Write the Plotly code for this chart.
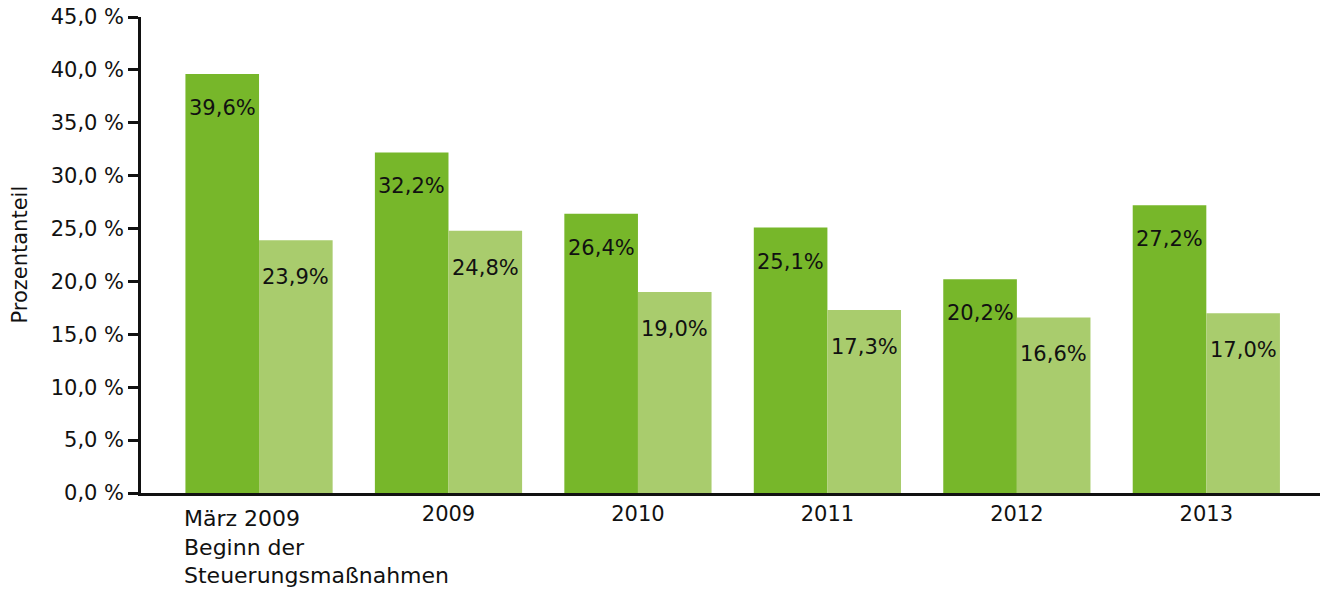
import plotly.graph_objects as go

categories = ["März 2009<br>Beginn der<br>Steuerungsmaßnahmen", "2009", "2010", "2011", "2012", "2013"]
series_a = [39.6, 32.2, 26.4, 25.1, 20.2, 27.2]
series_b = [23.9, 24.8, 19.0, 17.3, 16.6, 17.0]
y_ticks = [0, 5, 10, 15, 20, 25, 30, 35, 40, 45]
y_tick_labels = ["0,0 %", "5,0 %", "10,0 %", "15,0 %", "20,0 %", "25,0 %", "30,0 %", "35,0 %", "40,0 %", "45,0 %"]

DARK = "#77b72a"
LIGHT = "#a9cc6d"
FONT = "DejaVu Sans, sans-serif"
FS = 21
BARGAP = 0.223
bar_w = (1 - BARGAP) / 2

xs = list(range(len(categories)))

fig = go.Figure()
fig.add_trace(go.Bar(x=xs, y=series_a, marker=dict(color=DARK, line=dict(width=0)), hoverinfo="skip"))
fig.add_trace(go.Bar(x=xs, y=series_b, marker=dict(color=LIGHT, line=dict(width=0)), hoverinfo="skip"))

def fmt(v):
    return f"{v:.1f}".replace(".", ",") + "%"

annotations = []
for i, (a, b) in enumerate(zip(series_a, series_b)):
    annotations.append(dict(x=i - bar_w / 2, y=a, xref="x", yref="y", text=fmt(a), showarrow=False,
                            yanchor="middle", yshift=-34, font=dict(size=FS, color="#111111", family=FONT)))
    annotations.append(dict(x=i + bar_w / 2, y=b, xref="x", yref="y", text=fmt(b), showarrow=False,
                            yanchor="middle", yshift=-37, font=dict(size=FS, color="#111111", family=FONT)))

# first category label is left-aligned under the first bar
annotations.append(dict(x=0 - bar_w, y=0, xref="x", yref="paper", text=categories[0], showarrow=False,
                        xanchor="left", yanchor="top", align="left", yshift=-11, xshift=-3,
                        font=dict(size=22, color="#111111", family=FONT)))

# axis title
annotations.append(dict(x=-0.103, y=0.5, xref="paper", yref="paper", text="Prozentanteil", showarrow=False,
                        textangle=-90, xanchor="center", yanchor="middle",
                        font=dict(size=FS, color="#111111", family=FONT)))

fig.update_layout(
    width=1320, height=593,
    margin=dict(l=141, r=0, t=17, b=100),
    barmode="group", bargap=BARGAP, bargroupgap=0,
    showlegend=False,
    plot_bgcolor="white", paper_bgcolor="white",
    font=dict(family=FONT, size=FS, color="#111111"),
    annotations=annotations,
)
fig.update_xaxes(
    range=[-0.623, 5.6],
    tickvals=xs, ticktext=[""] + categories[1:],
    showline=True, linecolor="#111111", linewidth=2.5,
    ticks="", showgrid=False, zeroline=False,
    tickfont=dict(size=FS, family=FONT, color="#111111"),
)
fig.update_yaxes(
    range=[0, 45],
    tickvals=y_ticks, ticktext=y_tick_labels,
    showline=True, linecolor="#111111", linewidth=2.5,
    ticks="outside", ticklen=10, tickwidth=2.5, tickcolor="#111111",
    showgrid=False, zeroline=False,
    tickfont=dict(size=FS, family=FONT, color="#111111"),
)

fig.write_html("out.html")
